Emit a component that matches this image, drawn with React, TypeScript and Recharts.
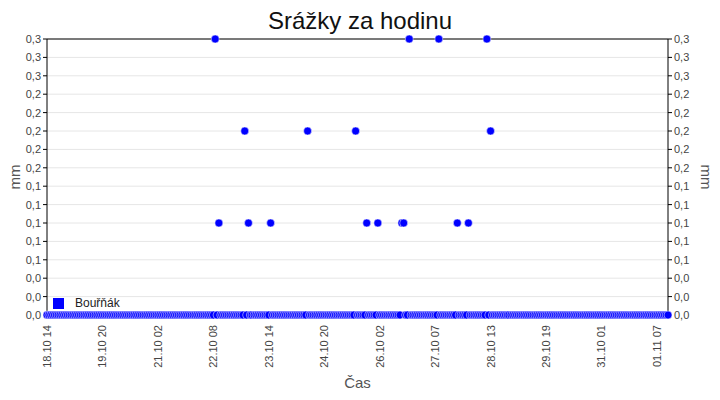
import {
  ScatterChart,
  Scatter,
  XAxis,
  YAxis,
  CartesianGrid,
  Legend,
  ReferenceLine,
} from "recharts";

// hourly rainfall in mm, starting 18.10 14:00 (one row = 30 hours)
const rainMm: number[] = [
  0, 0, 0, 0, 0, 0, 0, 0, 0, 0, 0, 0, 0, 0, 0, 0, 0, 0, 0, 0, 0, 0, 0, 0, 0, 0, 0, 0, 0, 0,
  0, 0, 0, 0, 0, 0, 0, 0, 0, 0, 0, 0, 0, 0, 0, 0, 0, 0, 0, 0, 0, 0, 0, 0, 0, 0, 0, 0, 0, 0,
  0, 0, 0, 0, 0, 0, 0, 0, 0, 0, 0, 0, 0, 0, 0, 0, 0, 0, 0, 0, 0, 0, 0, 0, 0, 0, 0, 0, 0, 0,
  0, 0.3, 0, 0.1, 0, 0, 0, 0, 0, 0, 0, 0, 0, 0, 0, 0, 0, 0.2, 0, 0.1, 0, 0, 0, 0, 0, 0, 0, 0, 0, 0,
  0, 0.1, 0, 0, 0, 0, 0, 0, 0, 0, 0, 0, 0, 0, 0, 0, 0, 0, 0, 0, 0, 0.2, 0, 0, 0, 0, 0, 0, 0, 0,
  0, 0, 0, 0, 0, 0, 0, 0, 0, 0, 0, 0, 0, 0, 0, 0, 0, 0.2, 0, 0, 0, 0, 0, 0.1, 0, 0, 0, 0, 0, 0.1,
  0, 0, 0, 0, 0, 0, 0, 0, 0, 0, 0, 0, 0.1, 0.1, 0, 0, 0.3, 0, 0, 0, 0, 0, 0, 0, 0, 0, 0, 0, 0, 0,
  0, 0, 0.3, 0, 0, 0, 0, 0, 0, 0, 0, 0, 0.1, 0, 0, 0, 0, 0, 0.1, 0, 0, 0, 0, 0, 0, 0, 0, 0, 0.3, 0,
  0.2, 0, 0, 0, 0, 0, 0, 0, 0, 0, 0, 0, 0, 0, 0, 0, 0, 0, 0, 0, 0, 0, 0, 0, 0, 0, 0, 0, 0, 0,
  0, 0, 0, 0, 0, 0, 0, 0, 0, 0, 0, 0, 0, 0, 0, 0, 0, 0, 0, 0, 0, 0, 0, 0, 0, 0, 0, 0, 0, 0,
  0, 0, 0, 0, 0, 0, 0, 0, 0, 0, 0, 0, 0, 0, 0, 0, 0, 0, 0, 0, 0, 0, 0, 0, 0, 0, 0, 0, 0, 0,
  0, 0, 0, 0, 0, 0, 0,
];

const timeTicks = [0, 30, 60, 90, 120, 150, 180, 210, 240, 270, 300, 330];
const timeLabels = [
  "18.10 14",
  "19.10 20",
  "21.10 02",
  "22.10 08",
  "23.10 14",
  "24.10 20",
  "26.10 02",
  "27.10 07",
  "28.10 13",
  "29.10 19",
  "31.10 01",
  "01.11 07",
];

const mmTicks = [
  0, 0.02, 0.04, 0.06, 0.08, 0.1, 0.12, 0.14, 0.16, 0.18, 0.2, 0.22, 0.24, 0.26,
  0.28, 0.3,
];

const data = rainMm.map((mm, hour) => ({ hour, mm }));

const font = "'Liberation Sans', Arial, sans-serif";
const tickStyle = { fontSize: 11, fill: "#444", fontFamily: font };
const fmtMm = (v: number) => v.toFixed(1).replace(".", ",");

const Dot = (props: any) => {
  const { cx, cy } = props;
  if (cx == null || cy == null) return null;
  return (
    <circle
      cx={cx}
      cy={cy}
      r={4}
      fill="#0000ff"
      stroke="#ffffff"
      strokeWidth={0.5}
    />
  );
};

const XTick = (props: any) => {
  const { x, y, payload } = props;
  const i = timeTicks.indexOf(payload.value);
  return (
    <text
      x={x}
      y={y + 4}
      transform={`rotate(-90, ${x}, ${y + 4})`}
      textAnchor="end"
      dominantBaseline="central"
      style={tickStyle}
      fill="#444"
    >
      {i >= 0 ? timeLabels[i] : ""}
    </text>
  );
};

const LegendBox = () => (
  <div
    style={{
      display: "flex",
      alignItems: "center",
      fontFamily: font,
      fontSize: 12,
      color: "#222",
    }}
  >
    <span
      style={{
        display: "inline-block",
        width: 11,
        height: 11,
        background: "#0000ff",
        marginRight: 11,
      }}
    />
    Bouřňák
  </div>
);

export default function App() {
  return (
    <div
      style={{
        position: "absolute",
        left: 0,
        top: 0,
        width: 720,
        height: 400,
        background: "#fff",
      }}
    >
      <div
        style={{
          position: "absolute",
          top: 7,
          width: 720,
          textAlign: "center",
          fontFamily: font,
          fontSize: 24,
          color: "#111",
        }}
      >
        Srážky za hodinu
      </div>
      <ScatterChart
        width={720}
        height={400}
        margin={{ top: 39, right: 0, bottom: 0, left: 0 }}
      >
        <CartesianGrid
          yAxisId="left"
          vertical={false}
          stroke="#e6e6e6"
          strokeWidth={1}
        />
        <XAxis
          type="number"
          dataKey="hour"
          domain={[0, 336]}
          ticks={timeTicks}
          tick={<XTick />}
          tickSize={4}
          height={85}
          stroke="#000"
          label={{
            value: "Čas",
            position: "insideBottom",
            offset: 12,
            style: { fontSize: 15, fill: "#555", fontFamily: font },
          }}
        />
        <YAxis
          yAxisId="left"
          type="number"
          dataKey="mm"
          domain={[0, 0.3]}
          ticks={mmTicks}
          tickFormatter={fmtMm}
          tick={tickStyle}
          tickSize={4}
          interval={0}
          width={47}
          stroke="#000"
          label={{
            value: "mm",
            angle: -90,
            position: "insideLeft",
            offset: 15,
            style: { fontSize: 15, fill: "#555", fontFamily: font, textAnchor: "middle" },
          }}
        />
        <YAxis
          yAxisId="right"
          orientation="right"
          type="number"
          dataKey="mm"
          domain={[0, 0.3]}
          ticks={mmTicks}
          tickFormatter={fmtMm}
          tick={tickStyle}
          tickSize={4}
          interval={0}
          width={52}
          stroke="#000"
          label={{
            value: "mm",
            angle: 90,
            position: "insideRight",
            offset: 14,
            style: { fontSize: 15, fill: "#555", fontFamily: font, textAnchor: "middle" },
          }}
        />
        <ReferenceLine yAxisId="left" y={0.3} stroke="#000" strokeWidth={1} />
        <Legend
          layout="vertical"
          align="center"
          verticalAlign="middle"
          content={<LegendBox />}
          wrapperStyle={{ left: 53, top: 296, width: "auto", height: "auto" }}
        />
        <Scatter
          yAxisId="left"
          name="Bouřňák"
          data={data}
          fill="#0000ff"
          shape={<Dot />}
          isAnimationActive={false}
        />
        <Scatter
          yAxisId="right"
          data={data}
          legendType="none"
          shape={() => null}
          isAnimationActive={false}
        />
      </ScatterChart>
    </div>
  );
}
